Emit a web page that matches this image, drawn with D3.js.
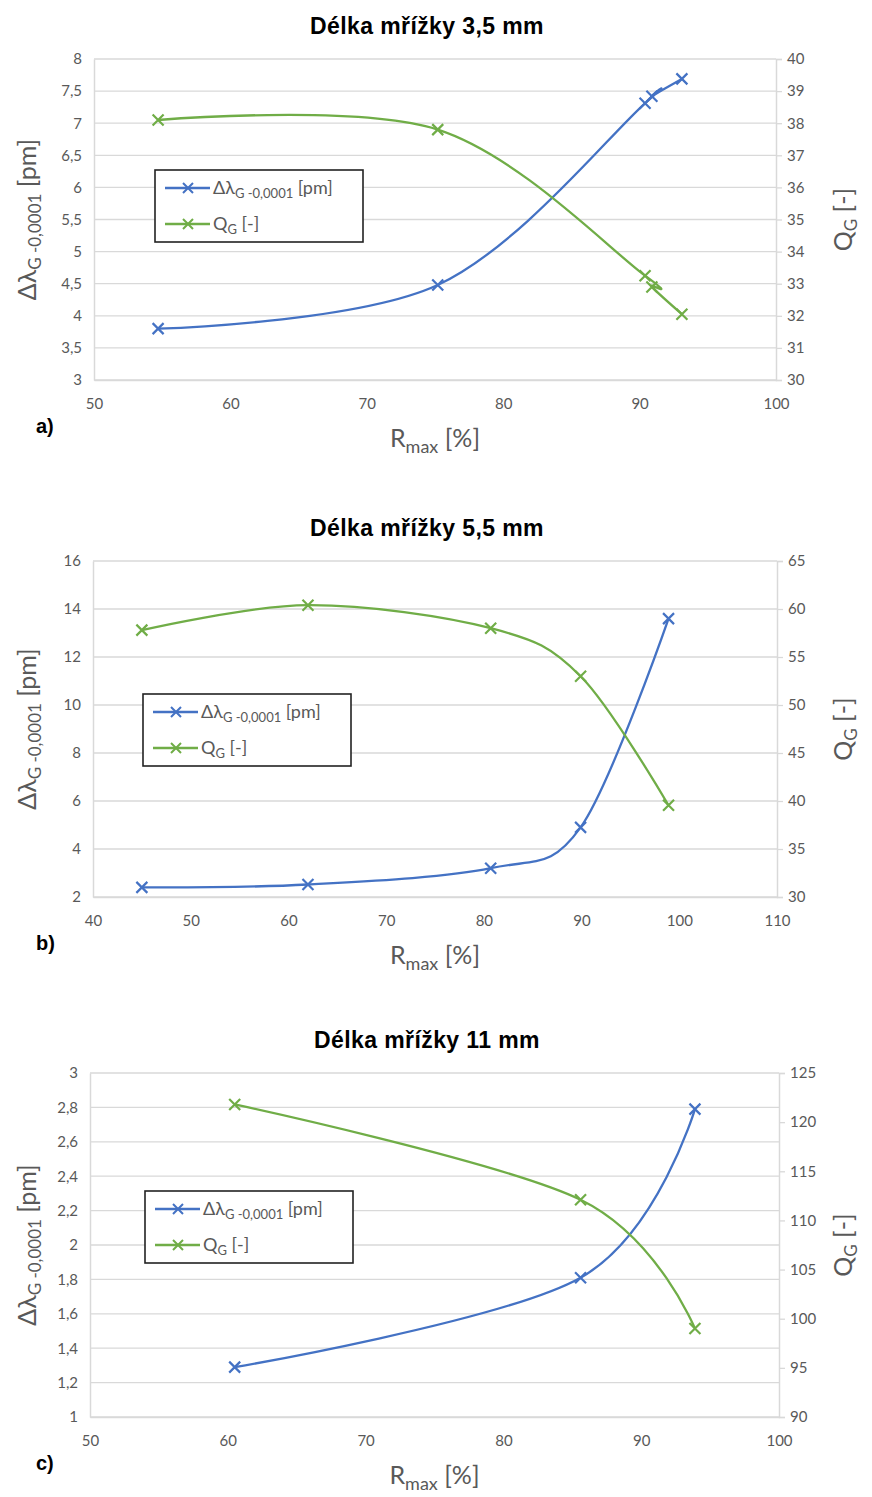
<!DOCTYPE html>
<html>
<head>
<meta charset="utf-8">
<script src="https://cdn.jsdelivr.net/npm/d3@7"></script>
<style>
  body { margin: 0; background: #fff; }
  svg text { font-family: Lato, "Open Sans", sans-serif; }
</style>
</head>
<body>
<div class="charts"></div>
<script>
// ---- data ----
var titlesA = "Délka mřížky 3,5 mm";
var rmaxA = [54.7, 75.2, 90.4, 90.9, 93.1];
var dlambdaA = [3.8, 4.48, 7.31, 7.42, 7.69];
var qA = [38.1, 37.8, 33.25, 32.9, 32.05];
var leftTicksA = [3, 3.5, 4, 4.5, 5, 5.5, 6, 6.5, 7, 7.5, 8];
var rightTicksA = [30, 31, 32, 33, 34, 35, 36, 37, 38, 39, 40];
var xTicksA = [50, 60, 70, 80, 90, 100];

var titlesB = "Délka mřížky 5,5 mm";
var rmaxB = [45.0, 62.0, 80.7, 89.9, 98.9];
var dlambdaB = [2.4, 2.52, 3.2, 4.9, 13.6];
var qB = [57.8, 60.4, 58.0, 53.0, 39.55];
var leftTicksB = [2, 4, 6, 8, 10, 12, 14, 16];
var rightTicksB = [30, 35, 40, 45, 50, 55, 60, 65];
var xTicksB = [40, 50, 60, 70, 80, 90, 100, 110];

var titlesC = "Délka mřížky 11 mm";
var rmaxC = [60.5, 85.6, 93.9];
var dlambdaC = [1.29, 1.81, 2.79];
var qC = [121.8, 112.1, 99.0];
var leftTicksC = [1, 1.2, 1.4, 1.6, 1.8, 2, 2.2, 2.4, 2.6, 2.8, 3];
var rightTicksC = [90, 95, 100, 105, 110, 115, 120, 125];
var xTicksC = [50, 60, 70, 80, 90, 100];

var BLUE = "#4472C4";
var GREEN = "#70AD47";
var GRAY = "#595959";
var GRID = "#d9d9d9";

var svg = d3.select(".charts")
    .append("svg")
    .attr("width", 872)
    .attr("height", 1497);

var fmt = function(v) { return String(v).replace(".", ","); };

function drawChart(c) {
    var g = svg.append("g");

    var x = d3.scaleLinear().domain(d3.extent(c.xTicks)).range([c.left, c.right]);
    var yL = d3.scaleLinear().domain(d3.extent(c.leftTicks)).range([c.bottom, c.top]);
    var yR = d3.scaleLinear().domain(d3.extent(c.rightTicks)).range([c.bottom, c.top]);

    // title
    g.append("text")
        .attr("x", 427).attr("y", c.top - 25)
        .attr("text-anchor", "middle")
        .style("font-family", "'Liberation Sans', Arial, sans-serif")
        .style("font-weight", "bold")
        .style("font-size", "23px")
        .style("letter-spacing", "0.4px")
        .attr("fill", "#000")
        .text(c.title);

    // gridlines
    g.selectAll(".grid").data(c.leftTicks).enter()
        .append("line")
        .attr("x1", c.left).attr("x2", c.right)
        .attr("y1", function(d) { return yL(d); })
        .attr("y2", function(d) { return yL(d); })
        .attr("stroke", GRID).attr("stroke-width", 1.3);

    // axes
    var la = g.append("g")
        .attr("transform", "translate(" + c.left + ",0)")
        .call(d3.axisLeft(yL).tickValues(c.leftTicks).tickFormat(fmt).tickSize(0).tickPadding(12));
    var ra = g.append("g")
        .attr("transform", "translate(" + c.right + ",0)")
        .call(d3.axisRight(yR).tickValues(c.rightTicks).tickFormat(fmt).tickSize(6).tickPadding(5));
    var ba = g.append("g")
        .attr("transform", "translate(0," + c.bottom + ")")
        .call(d3.axisBottom(x).tickValues(c.xTicks).tickSize(0).tickPadding(18));

    [la, ra, ba].forEach(function(a) {
        a.select(".domain").attr("stroke", GRID).attr("stroke-width", 1.5);
        a.selectAll(".tick line").attr("stroke", GRID).attr("stroke-width", 1.3);
        a.selectAll(".tick text")
            .attr("fill", GRAY)
            .style("font-size", "15px")
            .style("font-family", "Lato, sans-serif");
    });

    // series lines + markers
    var curve = d3.curveCardinal.tension(0);
    var series = [
        { ys: c.blue, y: yL, color: BLUE },
        { ys: c.green, y: yR, color: GREEN }
    ];
    series.forEach(function(s) {
        var pts = c.xs.map(function(v, i) { return [x(v), s.y(s.ys[i])]; });
        g.append("path")
            .attr("d", d3.line().curve(curve)(pts))
            .attr("fill", "none")
            .attr("stroke", s.color)
            .attr("stroke-width", 2.3);
        g.selectAll(null).data(pts).enter()
            .append("path")
            .attr("transform", function(p) { return "translate(" + p[0] + "," + p[1] + ")"; })
            .attr("d", "M-5.5,-5.5L5.5,5.5M-5.5,5.5L5.5,-5.5")
            .attr("stroke", s.color)
            .attr("stroke-width", 2.2)
            .attr("fill", "none");
    });

    // legend
    var lg = g.append("g").attr("transform", "translate(" + c.legX + "," + c.legY + ")");
    lg.append("rect")
        .attr("width", 208).attr("height", 72)
        .attr("fill", "#fff")
        .attr("stroke", "#222").attr("stroke-width", 1.6);
    [[BLUE, 18], [GREEN, 54]].forEach(function(e, i) {
        lg.append("line")
            .attr("x1", 10).attr("x2", 55)
            .attr("y1", e[1]).attr("y2", e[1])
            .attr("stroke", e[0]).attr("stroke-width", 2.3);
        lg.append("path")
            .attr("transform", "translate(33," + e[1] + ")")
            .attr("d", "M-5,-5L5,5M-5,5L5,-5")
            .attr("stroke", e[0]).attr("stroke-width", 2);
        var t = lg.append("text")
            .attr("x", 58).attr("y", e[1] + 6)
            .attr("fill", GRAY)
            .style("font-size", "18px");
        if (i === 0) {
            t.append("tspan").text("Δλ");
            t.append("tspan").attr("dy", 4).style("font-size", "13px").text("G -0,0001");
            t.append("tspan").attr("dy", -4).text(" [pm]");
        } else {
            t.append("tspan").text("Q");
            t.append("tspan").attr("dy", 4).style("font-size", "13px").text("G");
            t.append("tspan").attr("dy", -4).text(" [-]");
        }
    });

    // axis titles
    var midY = (c.top + c.bottom) / 2;
    var lt = g.append("text")
        .attr("transform", "translate(36," + midY + ") rotate(-90)")
        .attr("text-anchor", "middle")
        .attr("fill", GRAY)
        .style("font-size", "25px");
    lt.append("tspan").text("Δλ");
    lt.append("tspan").attr("dy", 5).style("font-size", "17px").text("G -0,0001");
    lt.append("tspan").attr("dy", -5).text(" [pm]");

    var rt = g.append("text")
        .attr("transform", "translate(852," + midY + ") rotate(-90)")
        .attr("text-anchor", "middle")
        .attr("fill", GRAY)
        .style("font-size", "25px");
    rt.append("tspan").text("Q");
    rt.append("tspan").attr("dy", 5).style("font-size", "17px").text("G");
    rt.append("tspan").attr("dy", -5).text(" [-]");

    var xt = g.append("text")
        .attr("x", (c.left + c.right) / 2).attr("y", c.bottom + 67)
        .attr("text-anchor", "middle")
        .attr("fill", GRAY)
        .style("font-size", "25px");
    xt.append("tspan").text("R");
    xt.append("tspan").attr("dy", 6).style("font-size", "18px").text("max");
    xt.append("tspan").attr("dy", -6).text(" [%]");

    // panel label
    g.append("text")
        .attr("x", 36).attr("y", c.bottom + 53)
        .style("font-family", "'Liberation Sans', Arial, sans-serif")
        .style("font-weight", "bold")
        .style("font-size", "20px")
        .attr("fill", "#000")
        .text(c.label);
}

drawChart({
    title: titlesA, label: "a)",
    xs: rmaxA, blue: dlambdaA, green: qA,
    leftTicks: leftTicksA, rightTicks: rightTicksA, xTicks: xTicksA,
    left: 94, right: 776, top: 59, bottom: 380,
    legX: 155, legY: 170
});
drawChart({
    title: titlesB, label: "b)",
    xs: rmaxB, blue: dlambdaB, green: qB,
    leftTicks: leftTicksB, rightTicks: rightTicksB, xTicks: xTicksB,
    left: 93, right: 777, top: 561, bottom: 897,
    legX: 143, legY: 694
});
drawChart({
    title: titlesC, label: "c)",
    xs: rmaxC, blue: dlambdaC, green: qC,
    leftTicks: leftTicksC, rightTicks: rightTicksC, xTicks: xTicksC,
    left: 90, right: 779, top: 1073, bottom: 1417,
    legX: 145, legY: 1191
});
</script>
</body>
</html>
